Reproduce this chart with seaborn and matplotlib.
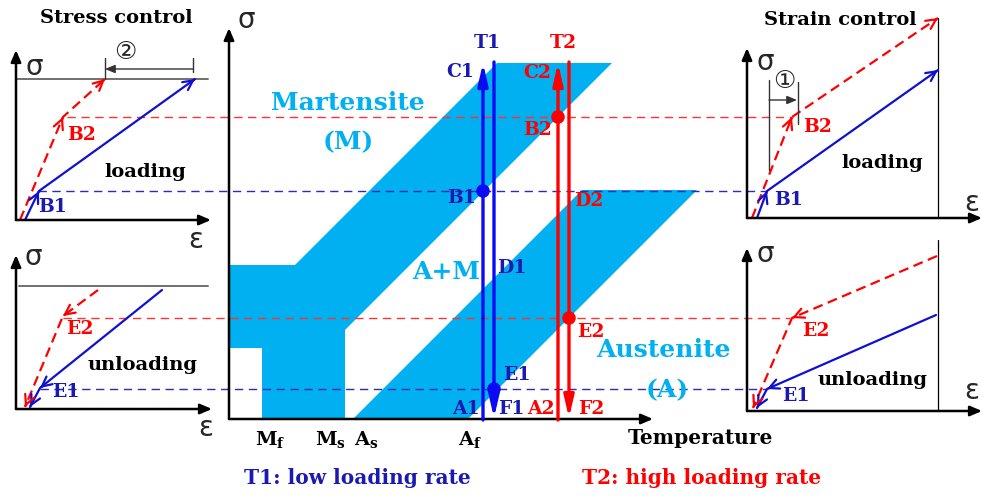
import matplotlib
matplotlib.use("Agg")
import matplotlib.pyplot as plt
import seaborn as sns
import pandas as pd

# the whole schematic is laid out in pixel units of a 983x496 canvas (y downwards)
W, H = 983, 496

CYAN = "#00B0F0"
BLUE = "#0A0AF5"
NAVY = "#1A1AB0"
RED = "#FF0000"

# --- sigma-T phase diagram -------------------------------------------------
martensite_band = [(497, 63), (612, 63), (345, 330), (345, 419), (262, 419),
                   (262, 348), (229, 348), (229, 265), (295, 265)]
austenite_band = [(582, 190), (697, 190), (468, 419), (353, 419)]

main_origin = (229, 419)
main_sigma_tip = 28
main_temp_tip = 653

# T1 / T2 load paths: (x, colour, direction)
path_x = [483, 494, 558, 569]
path_dir = ["up", "down", "up", "down"]
path_color = [BLUE, BLUE, RED, RED]
path_top, path_bottom = 62, 420

# marked states on the paths
point_names = ["B1", "B2", "E1", "E2"]
point_x = [483, 558, 494, 569]
point_y = [191, 117, 389, 318]
point_color = [BLUE, RED, BLUE, RED]

# dashed levels joining the diagram to the stress-strain sketches
level_y = [117, 191, 318, 389]
level_x0 = [67, 38, 63, 40]
level_x1 = [793, 767, 790, 767]
level_color = ["#FF3333", "#2A2AC0", "#FF3333", "#2A2AC0"]

# --- small stress-strain sketches ------------------------------------------
sub_origin = [(16, 220), (16, 409), (747, 218), (747, 411)]
sub_sigma_tip = [50, 255, 48, 248]
sub_eps_tip = [211, 212, 982, 982]

stress_load_t1 = [(25, 220), (39, 191), (195, 79)]
stress_load_t2 = [(20, 220), (63, 117), (105, 79)]
stress_unload_t1 = [(162, 290), (40, 388), (30, 407)]
stress_unload_t2 = [(98, 290), (63, 316), (25, 407)]
strain_load_t1 = [(757, 218), (767, 191), (938, 70)]
strain_load_t2 = [(752, 218), (792, 117), (938, 18)]
strain_unload_t1 = [(936, 315), (767, 389), (757, 408)]
strain_unload_t2 = [(937, 256), (792, 318), (753, 408)]

# stress limits (gray) and strain limits (black)
stress_limit_y = [79, 286]
stress_limit_x = [(16, 208), (19, 208)]
strain_limit_x = 938
strain_limit_y = [(18, 218), (240, 411)]

# text: (label, x, y, size)
black_text = [("Stress control", 116, 18, 14), ("Strain control", 840, 20, 14),
              ("loading", 145, 172, 14), ("loading", 882, 163, 14),
              ("unloading", 143, 365, 14), ("unloading", 873, 380, 14),
              ("Temperature", 700, 438, 14.5)]
temp_ticks = [r"$\mathbf{M}_\mathbf{f}$", r"$\mathbf{M}_\mathbf{s}$",
              r"$\mathbf{A}_\mathbf{s}$", r"$\mathbf{A}_\mathbf{f}$"]
temp_tick_x = [270, 330, 366, 470]
blue_labels = [("T1", 487, 43), ("C1", 460, 72), ("B1", 462, 198), ("D1", 512, 268),
               ("E1", 517, 375), ("A1", 466, 409), ("F1", 511, 409),
               ("B1", 53, 207), ("E1", 66, 392), ("B1", 789, 200), ("E1", 796, 396)]
red_labels = [("T2", 563, 43), ("C2", 537, 73), ("B2", 537, 130), ("D2", 589, 201),
              ("E2", 591, 332), ("A2", 541, 409), ("F2", 591, 409),
              ("B2", 82, 135), ("E2", 80, 329), ("B2", 818, 127), ("E2", 816, 331)]
phase_text = [("Martensite", 348, 103), ("(M)", 348, 142), ("A+M", 446, 272),
              ("Austenite", 663, 350), ("(A)", 667, 390)]
sigma_pos = [(246, 20), (34, 67), (33, 257), (765, 62), (765, 254)]
eps_pos = [(196, 240), (206, 428), (972, 203), (972, 391)]


def axis_arrow(ax, start, end):
    ax.annotate("", xy=end, xytext=start,
                arrowprops=dict(arrowstyle="-|>,head_length=0.7,head_width=0.3",
                                color="black", lw=1.8, shrinkA=0, shrinkB=0))


def open_head(ax, p0, p1, color):
    # short solid segment just before p1 so only the chevron shows
    dx, dy = p1[0] - p0[0], p1[1] - p0[1]
    n = (dx ** 2 + dy ** 2) ** 0.5
    back = (p1[0] - dx / n * 2, p1[1] - dy / n * 2)
    ax.annotate("", xy=p1, xytext=back,
                arrowprops=dict(arrowstyle="->,head_length=0.7,head_width=0.35",
                                color=color, lw=1.6, shrinkA=0, shrinkB=0))


def sketch_path(ax, pts, color, dashed):
    xs = [p[0] for p in pts]
    ys = [p[1] for p in pts]
    if dashed:
        ax.plot(xs, ys, color=color, lw=1.6, ls=(0, (4.5, 2.5)))
    else:
        ax.plot(xs, ys, color=color, lw=1.6)
    for i in range(1, len(pts)):
        open_head(ax, pts[i - 1], pts[i], color)


sns.set_style("white")
plt.rcParams["font.family"] = "DejaVu Serif"
plt.rcParams["mathtext.fontset"] = "custom"
plt.rcParams["mathtext.bf"] = "DejaVu Serif:bold"
plt.rcParams["mathtext.rm"] = "DejaVu Serif"

fig = plt.figure(figsize=(W / 100, H / 100), dpi=100)
ax = fig.add_axes([0, 0, 1, 1])

# phase regions
for band in [martensite_band, austenite_band]:
    ax.add_patch(plt.Polygon(band, closed=True, facecolor=CYAN, edgecolor="none", zorder=1))

# dashed levels
for y, x0, x1, c in zip(level_y, level_x0, level_x1, level_color):
    ax.plot([x0, x1], [y, y], color=c, lw=1.0, ls=(0, (6, 4)), zorder=2)

# main axes
axis_arrow(ax, main_origin, (main_origin[0], main_sigma_tip))
axis_arrow(ax, main_origin, (main_temp_tip, main_origin[1]))

# T1 / T2 paths
for x, d, c in zip(path_x, path_dir, path_color):
    if d == "up":
        start, end = (x, path_bottom), (x, path_top + 1)
    else:
        start, end = (x, path_top), (x, path_bottom - 2)
    ax.annotate("", xy=end, xytext=start, zorder=3,
                arrowprops=dict(arrowstyle="-|>,head_length=1.3,head_width=0.3",
                                color=c, lw=2.4, shrinkA=0, shrinkB=0))

pts = pd.DataFrame({"name": point_names, "x": point_x, "y": point_y})
sns.scatterplot(data=pts, x="x", y="y", hue="name", palette=dict(zip(point_names, point_color)),
                s=95, edgecolor="none", legend=False, ax=ax, zorder=4)

# stress-strain sketches
for (ox, oy), st, et in zip(sub_origin, sub_sigma_tip, sub_eps_tip):
    axis_arrow(ax, (ox, oy), (ox, st))
    axis_arrow(ax, (ox, oy), (et, oy))

for y, (x0, x1) in zip(stress_limit_y, stress_limit_x):
    ax.plot([x0, x1], [y, y], color="#707070", lw=1.4)
for y0, y1 in strain_limit_y:
    ax.plot([strain_limit_x, strain_limit_x], [y0, y1], color="black", lw=0.9)

for p in [stress_load_t1, stress_unload_t1, strain_load_t1, strain_unload_t1]:
    sketch_path(ax, p, "#1010D0", False)
for p in [stress_load_t2, stress_unload_t2, strain_load_t2, strain_unload_t2]:
    sketch_path(ax, p, RED, True)

# dimension marks 2 (stress control) and 1 (strain control)
dim = "#333333"
ax.plot([105, 105], [58, 79], color=dim, lw=1.0)
ax.plot([193, 193], [58, 72], color=dim, lw=1.0)
ax.annotate("", xy=(105, 69), xytext=(193, 69),
            arrowprops=dict(arrowstyle="-|>,head_length=0.6,head_width=0.25",
                            color=dim, lw=1.0, shrinkA=0, shrinkB=0))
ax.text(125, 52, "\u2461", fontsize=18, family="DejaVu Sans", ha="center", va="center")
ax.plot([769, 769], [80, 170], color=dim, lw=1.0)
ax.plot([798, 798], [82, 124], color=dim, lw=1.0)
ax.annotate("", xy=(797, 100), xytext=(769, 100),
            arrowprops=dict(arrowstyle="-|>,head_length=0.6,head_width=0.25",
                            color=dim, lw=1.0, shrinkA=0, shrinkB=0))
ax.text(784, 81, "\u2460", fontsize=18, family="DejaVu Sans", ha="center", va="center")

# text
for s, x, y, fs in black_text:
    ax.text(x, y, s, fontsize=fs, fontweight="bold", ha="center", va="center", color="black")
for s, x in zip(temp_ticks, temp_tick_x):
    ax.text(x, 440, s, fontsize=14, ha="center", va="center", color="black")
for s, x, y in blue_labels:
    ax.text(x, y, s, fontsize=13.5, fontweight="bold", ha="center", va="center", color=NAVY, zorder=5)
for s, x, y in red_labels:
    ax.text(x, y, s, fontsize=13.5, fontweight="bold", ha="center", va="center", color=RED, zorder=5)
for s, x, y in phase_text:
    ax.text(x, y, s, fontsize=18, fontweight="bold", ha="center", va="center", color=CYAN, zorder=5)
for x, y in sigma_pos:
    ax.text(x, y, "\u03c3", fontsize=20, family="DejaVu Sans", ha="center", va="center")
for x, y in eps_pos:
    ax.text(x, y, "\u03b5", fontsize=20, family="DejaVu Sans", ha="center", va="center")

ax.text(357, 478, "T1: low loading rate", fontsize=14.5, fontweight="bold",
        ha="center", va="center", color=NAVY)
ax.text(702, 478, "T2: high loading rate", fontsize=14.5, fontweight="bold",
        ha="center", va="center", color=RED)

ax.set_xlim(0, W)
ax.set_ylim(H, 0)
ax.axis("off")

fig.savefig("out.png", dpi=100)
